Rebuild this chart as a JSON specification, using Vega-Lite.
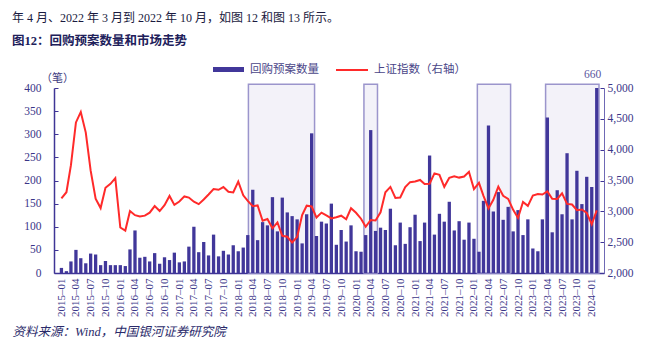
{
  "$schema": "https://vega.github.io/schema/vega-lite/v6.json",
  "width": 550,
  "height": 185,
  "autosize": {"type": "none"},
  "padding": {"left": 54, "top": 88, "right": 50, "bottom": 70},
  "background": "white",
  "config": {"view": {"stroke": null}, "font": "Liberation Serif"},
  "title": {
    "text": "年 4 月、2022 年 3 月到 2022 年 10 月，如图 12 和图 13 所示。",
    "subtitle": "图12：回购预案数量和市场走势",
    "anchor": "start",
    "frame": "group",
    "dx": -42,
    "offset": 5,
    "font": "Liberation Serif, Noto Sans CJK SC",
    "fontSize": 12,
    "fontWeight": "normal",
    "color": "#1a1a40",
    "subtitleFont": "Liberation Serif, Noto Sans CJK SC",
    "subtitleFontSize": 12.5,
    "subtitleFontWeight": "bold",
    "subtitleColor": "#20205a",
    "subtitlePadding": 10
  },
  "data": {
    "values": [
      {"date": "2015-01", "cnt": 11, "sse": 3210}, {"date": "2015-02", "cnt": 4, "sse": 3310}, {"date": "2015-03", "cnt": 25, "sse": 3748}, {"date": "2015-04", "cnt": 50, "sse": 4442}, {"date": "2015-05", "cnt": 32, "sse": 4612}, {"date": "2015-06", "cnt": 21, "sse": 4277}, {"date": "2015-07", "cnt": 42, "sse": 3664}, {"date": "2015-08", "cnt": 40, "sse": 3206}, {"date": "2015-09", "cnt": 17, "sse": 3053}, {"date": "2015-10", "cnt": 26, "sse": 3383}, {"date": "2015-11", "cnt": 17, "sse": 3445}, {"date": "2015-12", "cnt": 17, "sse": 3539},
      {"date": "2016-01", "cnt": 17, "sse": 2738}, {"date": "2016-02", "cnt": 15, "sse": 2688}, {"date": "2016-03", "cnt": 51, "sse": 3004}, {"date": "2016-04", "cnt": 92, "sse": 2938}, {"date": "2016-05", "cnt": 33, "sse": 2917}, {"date": "2016-06", "cnt": 35, "sse": 2930}, {"date": "2016-07", "cnt": 25, "sse": 2979}, {"date": "2016-08", "cnt": 43, "sse": 3085}, {"date": "2016-09", "cnt": 20, "sse": 3005}, {"date": "2016-10", "cnt": 34, "sse": 3100}, {"date": "2016-11", "cnt": 28, "sse": 3250}, {"date": "2016-12", "cnt": 44, "sse": 3104},
      {"date": "2017-01", "cnt": 23, "sse": 3159}, {"date": "2017-02", "cnt": 25, "sse": 3242}, {"date": "2017-03", "cnt": 57, "sse": 3223}, {"date": "2017-04", "cnt": 100, "sse": 3155}, {"date": "2017-05", "cnt": 45, "sse": 3117}, {"date": "2017-06", "cnt": 67, "sse": 3192}, {"date": "2017-07", "cnt": 38, "sse": 3273}, {"date": "2017-08", "cnt": 83, "sse": 3361}, {"date": "2017-09", "cnt": 36, "sse": 3349}, {"date": "2017-10", "cnt": 48, "sse": 3393}, {"date": "2017-11", "cnt": 40, "sse": 3317}, {"date": "2017-12", "cnt": 60, "sse": 3307},
      {"date": "2018-01", "cnt": 47, "sse": 3481}, {"date": "2018-02", "cnt": 55, "sse": 3259}, {"date": "2018-03", "cnt": 82, "sse": 3169}, {"date": "2018-04", "cnt": 180, "sse": 3082}, {"date": "2018-05", "cnt": 71, "sse": 3095}, {"date": "2018-06", "cnt": 110, "sse": 2847}, {"date": "2018-07", "cnt": 103, "sse": 2876}, {"date": "2018-08", "cnt": 164, "sse": 2725}, {"date": "2018-09", "cnt": 90, "sse": 2821}, {"date": "2018-10", "cnt": 163, "sse": 2603}, {"date": "2018-11", "cnt": 131, "sse": 2588}, {"date": "2018-12", "cnt": 123, "sse": 2494},
      {"date": "2019-01", "cnt": 116, "sse": 2585}, {"date": "2019-02", "cnt": 64, "sse": 2941}, {"date": "2019-03", "cnt": 127, "sse": 3091}, {"date": "2019-04", "cnt": 302, "sse": 3078}, {"date": "2019-05", "cnt": 80, "sse": 2899}, {"date": "2019-06", "cnt": 111, "sse": 2979}, {"date": "2019-07", "cnt": 107, "sse": 2933}, {"date": "2019-08", "cnt": 150, "sse": 2886}, {"date": "2019-09", "cnt": 61, "sse": 2905}, {"date": "2019-10", "cnt": 93, "sse": 2929}, {"date": "2019-11", "cnt": 68, "sse": 2872}, {"date": "2019-12", "cnt": 103, "sse": 3050},
      {"date": "2020-01", "cnt": 47, "sse": 2977}, {"date": "2020-02", "cnt": 46, "sse": 2880}, {"date": "2020-03", "cnt": 82, "sse": 2750}, {"date": "2020-04", "cnt": 309, "sse": 2860}, {"date": "2020-05", "cnt": 91, "sse": 2852}, {"date": "2020-06", "cnt": 98, "sse": 2985}, {"date": "2020-07", "cnt": 93, "sse": 3310}, {"date": "2020-08", "cnt": 139, "sse": 3396}, {"date": "2020-09", "cnt": 60, "sse": 3218}, {"date": "2020-10", "cnt": 109, "sse": 3225}, {"date": "2020-11", "cnt": 63, "sse": 3392}, {"date": "2020-12", "cnt": 99, "sse": 3473},
      {"date": "2021-01", "cnt": 126, "sse": 3483}, {"date": "2021-02", "cnt": 69, "sse": 3509}, {"date": "2021-03", "cnt": 109, "sse": 3442}, {"date": "2021-04", "cnt": 254, "sse": 3447}, {"date": "2021-05", "cnt": 83, "sse": 3615}, {"date": "2021-06", "cnt": 128, "sse": 3591}, {"date": "2021-07", "cnt": 111, "sse": 3397}, {"date": "2021-08", "cnt": 154, "sse": 3544}, {"date": "2021-09", "cnt": 92, "sse": 3568}, {"date": "2021-10", "cnt": 112, "sse": 3547}, {"date": "2021-11", "cnt": 72, "sse": 3564}, {"date": "2021-12", "cnt": 109, "sse": 3640},
      {"date": "2022-01", "cnt": 74, "sse": 3361}, {"date": "2022-02", "cnt": 46, "sse": 3462}, {"date": "2022-03", "cnt": 156, "sse": 3252}, {"date": "2022-04", "cnt": 319, "sse": 3047}, {"date": "2022-05", "cnt": 133, "sse": 3186}, {"date": "2022-06", "cnt": 175, "sse": 3399}, {"date": "2022-07", "cnt": 115, "sse": 3253}, {"date": "2022-08", "cnt": 143, "sse": 3202}, {"date": "2022-09", "cnt": 90, "sse": 3024}, {"date": "2022-10", "cnt": 136, "sse": 2893}, {"date": "2022-11", "cnt": 82, "sse": 3151}, {"date": "2022-12", "cnt": 116, "sse": 3089},
      {"date": "2023-01", "cnt": 53, "sse": 3256}, {"date": "2023-02", "cnt": 47, "sse": 3280}, {"date": "2023-03", "cnt": 116, "sse": 3273}, {"date": "2023-04", "cnt": 336, "sse": 3323}, {"date": "2023-05", "cnt": 88, "sse": 3205}, {"date": "2023-06", "cnt": 179, "sse": 3202}, {"date": "2023-07", "cnt": 127, "sse": 3291}, {"date": "2023-08", "cnt": 259, "sse": 3120}, {"date": "2023-09", "cnt": 116, "sse": 3110}, {"date": "2023-10", "cnt": 221, "sse": 3018}, {"date": "2023-11", "cnt": 149, "sse": 3030}, {"date": "2023-12", "cnt": 208, "sse": 2975},
      {"date": "2024-01", "cnt": 186, "sse": 2789}, {"date": "2024-02", "cnt": 660, "sse": 3015}
    ],
    "format": {"parse": {"date": "date:'%Y-%m'"}}
  },
  "encoding": {
    "x": {
      "field": "date",
      "type": "temporal",
      "scale": {"domain": [{"year": 2014, "month": 12, "date": 17}, {"year": 2024, "month": 2, "date": 15}]},
      "axis": {
        "title": "资料来源：Wind，中国银河证券研究院",
        "titleX": -42,
        "titleY": 58,
        "titleAnchor": "start",
        "titleAlign": "left",
        "titleBaseline": "middle",
        "titleFont": "Liberation Serif, Noto Sans CJK SC",
        "titleFontStyle": "italic",
        "titleFontSize": 12.5,
        "titleFontWeight": "normal",
        "titleColor": "#2a2a6a",
        "tickCount": {"interval": "month", "step": 3},
        "labelExpr": "timeFormat(datum.value, '%Y–%m')",
        "labelAngle": -90,
        "labelAlign": "right",
        "labelBaseline": "middle",
        "labelPadding": 5,
        "labelFont": "Liberation Serif",
        "labelFontSize": 11,
        "labelColor": "#3a3588",
        "labelFlush": false,
        "labelOverlap": false,
        "ticks": false,
        "grid": false,
        "domainColor": "#3f3596",
        "domainWidth": 1.5
      }
    }
  },
  "layer": [
    {
      "data": {
        "values": [
          {"date": "2018-03-05", "end": "2019-04-19", "top": 408, "bottom": 0},
          {"date": "2020-02-19", "end": "2020-05-13", "top": 408, "bottom": 0},
          {"date": "2022-01-22", "end": "2022-08-16", "top": 408, "bottom": 0},
          {"date": "2023-03-21", "end": "2024-02-15", "top": 408, "bottom": 0}
        ],
        "format": {"parse": {"date": "date:'%Y-%m-%d'", "end": "date:'%Y-%m-%d'"}}
      },
      "mark": {"type": "rect", "fill": "#f3f2f9", "stroke": "#9b95cc", "strokeWidth": 1.5, "clip": false},
      "encoding": {
        "x2": {"field": "end"},
        "y": {"field": "top", "type": "quantitative", "scale": {"domain": [0, 400], "nice": false}, "axis": null},
        "y2": {"field": "bottom"}
      }
    },
    {
      "mark": {"type": "bar", "width": 3.3},
      "encoding": {
        "y": {
          "field": "cnt",
          "type": "quantitative",
          "scale": {"domain": [0, 400], "nice": false, "clamp": true},
          "axis": {
            "orient": "left",
            "values": [0, 50, 100, 150, 200, 250, 300, 350, 400],
            "title": "（笔）",
            "titleAngle": 0,
            "titleX": 3,
            "titleY": -5,
            "titleAlign": "center",
            "titleBaseline": "bottom",
            "titleFont": "Noto Sans CJK SC",
            "titleFontSize": 11,
            "titleFontWeight": "normal",
            "titleColor": "#3d3a80",
            "labelFont": "Liberation Serif",
            "labelFontSize": 11.5,
            "labelColor": "#3a3588",
            "labelPadding": 17,
            "tickSize": -4,
            "tickColor": "#3f3596",
            "domainColor": "#3f3596",
            "domainWidth": 1.5,
            "grid": false
          }
        },
        "fill": {
          "datum": "回购预案数量",
          "type": "nominal",
          "scale": {"range": ["#41379a"]},
          "legend": {
            "orient": "none",
            "legendX": 159,
            "legendY": -34,
            "padding": 0,
            "title": null,
            "symbolType": "M-1,-0.16H1V0.16H-1Z",
            "symbolSize": 961,
            "symbolStrokeWidth": 0,
            "labelOffset": 6,
            "labelFont": "Noto Sans CJK SC",
            "labelFontSize": 11.5,
            "labelColor": "#4a4688"
          }
        }
      }
    },
    {
      "mark": {"type": "line", "strokeWidth": 2},
      "encoding": {
        "y": {
          "field": "sse",
          "type": "quantitative",
          "scale": {"domain": [2000, 5000], "nice": false},
          "axis": {
            "orient": "right",
            "values": [2000, 2500, 3000, 3500, 4000, 4500, 5000],
            "labelExpr": "format(datum.value, ',')",
            "title": null,
            "labelFont": "Liberation Serif",
            "labelFontSize": 11.5,
            "labelColor": "#3a3588",
            "labelPadding": 7,
            "tickSize": -4,
            "tickColor": "#3f3596",
            "domainColor": "#6f69b5",
            "domainWidth": 1,
            "grid": false
          }
        },
        "stroke": {
          "datum": "上证指数（右轴）",
          "type": "nominal",
          "scale": {"range": ["#ff2a2a"]},
          "legend": {
            "orient": "none",
            "legendX": 281,
            "legendY": -35,
            "padding": 0,
            "title": null,
            "symbolType": "stroke",
            "symbolSize": 1024,
            "symbolStrokeWidth": 2,
            "labelOffset": 5,
            "labelFont": "Noto Sans CJK SC",
            "labelFontSize": 11.5,
            "labelColor": "#4a4688"
          }
        }
      }
    },
    {
      "transform": [{"filter": "datum.cnt > 400"}],
      "mark": {"type": "text", "dy": -8, "dx": -4, "baseline": "bottom", "font": "Liberation Serif", "fontSize": 11.5, "color": "#5a55a0"},
      "encoding": {
        "y": {"field": "cnt", "type": "quantitative", "scale": {"domain": [0, 400], "nice": false, "clamp": true}, "axis": null},
        "text": {"field": "cnt", "type": "quantitative"}
      }
    }
  ],
  "resolve": {"scale": {"y": "independent"}}
}
